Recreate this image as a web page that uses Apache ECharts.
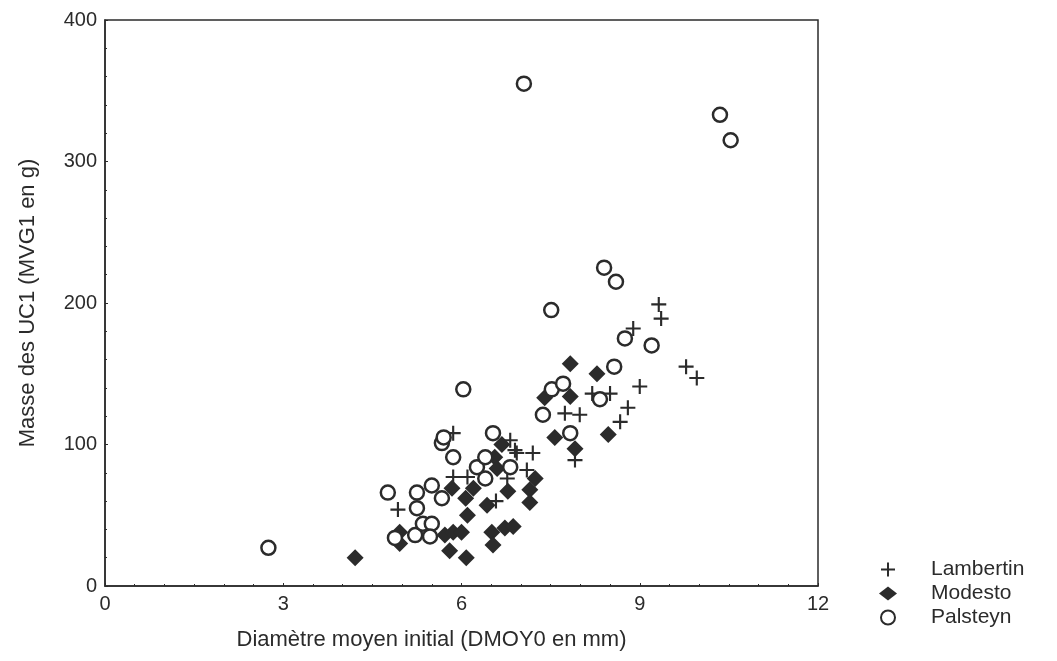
<!DOCTYPE html>
<html>
<head>
    <meta charset="utf-8">
    <title>Masse des UC1</title>
    <script src="https://cdn.jsdelivr.net/npm/echarts@6/dist/echarts.min.js"></script>
    <style>
        html, body { margin: 0; padding: 0; background: #fff; }
        #main { width: 1057px; height: 661px; }
    </style>
</head>
<body>
    <div id="main"></div>
    <script>
        // données : [DMOY0 (mm), MVG1 (g)]
        var lambertin = [
            [4.93, 54], [5.86, 108], [5.86, 77], [6.10, 77], [6.82, 103], [6.90, 96],
            [6.93, 94], [7.20, 94], [7.10, 82], [6.77, 76], [6.58, 60], [7.74, 122],
            [7.99, 121], [7.91, 89], [8.20, 136], [8.50, 136], [8.80, 126], [8.67, 116],
            [9.00, 141], [8.89, 182], [9.32, 199], [9.36, 189], [9.78, 155], [9.96, 147]
        ];
        var modesto = [
            [4.21, 20], [4.96, 38], [4.96, 30], [5.72, 36], [5.86, 38], [6.00, 38],
            [5.80, 25], [6.08, 20], [6.10, 50], [6.07, 62], [6.20, 69], [5.84, 69],
            [6.43, 57], [6.51, 38], [6.53, 29], [6.73, 41], [6.87, 42], [6.68, 100],
            [6.56, 91], [6.60, 83], [6.78, 67], [7.15, 68], [7.15, 59], [7.24, 76],
            [7.40, 133], [7.83, 134], [7.83, 157], [8.28, 150], [7.57, 105], [8.47, 107],
            [7.91, 97]
        ];
        var palsteyn = [
            [2.75, 27], [4.76, 66], [4.88, 34], [5.22, 36], [5.25, 66], [5.25, 55],
            [5.35, 44], [5.50, 44], [5.47, 35], [5.50, 71], [5.67, 62], [5.67, 101],
            [5.70, 105], [5.86, 91], [6.03, 139], [6.26, 84], [6.40, 91], [6.40, 76],
            [6.53, 108], [6.82, 84], [7.05, 355], [7.37, 121], [7.52, 139], [7.71, 143],
            [7.83, 108], [8.33, 132], [7.51, 195], [8.40, 225], [8.60, 215], [8.75, 175],
            [9.20, 170], [8.57, 155], [10.35, 333], [10.53, 315]
        ];
        var seriesNames = ['Lambertin', 'Modesto', 'Palsteyn'];
        var xTicks = [0, 3, 6, 9, 12];
        var yTicks = [0, 100, 200, 300, 400];

        var ink = '#2b2b2b';
        var plus = 'path://M6,0H8V6H14V8H8V14H6V8H0V6H6Z';

        var byId = function(id) {
            return document.getElementById(id);
        };

        var option = {
            animation: false,
            backgroundColor: '#fff',
            textStyle: { fontFamily: 'Liberation Sans, Arial, sans-serif', color: ink },
            grid: {
                left: 105, right: 239, top: 20, bottom: 75,
                show: true, borderColor: ink, borderWidth: 1.5
            },
            legend: {
                orient: 'vertical',
                left: 874,
                top: 554,
                itemGap: 3,
                itemWidth: 18,
                itemHeight: 14,
                data: seriesNames,
                textStyle: { fontSize: 21, color: ink, padding: [0, 0, 0, 29] }
            },
            xAxis: {
                type: 'value',
                min: xTicks[0],
                max: xTicks[xTicks.length - 1],
                interval: 3,
                name: 'Diamètre moyen initial (DMOY0 en mm)',
                nameLocation: 'middle',
                nameGap: 43,
                nameTextStyle: { fontSize: 22, color: ink, padding: [0, 60, 0, 0] },
                axisLine: { show: true, lineStyle: { color: ink, width: 1.5 } },
                axisTick: { show: true, inside: true, length: 3, lineStyle: { color: ink } },
                minorTick: { show: true, splitNumber: 6, length: 2, lineStyle: { color: ink } },
                axisLabel: { fontSize: 20, color: ink, margin: 8 },
                splitLine: { show: false }
            },
            yAxis: {
                type: 'value',
                min: yTicks[0],
                max: yTicks[yTicks.length - 1],
                interval: 100,
                name: 'Masse des UC1 (MVG1 en g)',
                nameLocation: 'middle',
                nameGap: 66,
                nameTextStyle: { fontSize: 22, color: ink },
                axisLine: { show: true, lineStyle: { color: ink, width: 1.5 } },
                axisTick: { show: true, inside: true, length: 3, lineStyle: { color: ink } },
                minorTick: { show: true, splitNumber: 5, length: 2, lineStyle: { color: ink } },
                axisLabel: { fontSize: 20, color: ink, margin: 8 },
                splitLine: { show: false }
            },
            series: [{
                name: seriesNames[0],
                type: 'scatter',
                symbol: plus,
                symbolSize: 15,
                itemStyle: { color: ink, opacity: 1 },
                data: lambertin
            }, {
                name: seriesNames[1],
                type: 'scatter',
                symbol: 'diamond',
                symbolSize: 17,
                itemStyle: { color: ink, opacity: 1 },
                data: modesto
            }, {
                name: seriesNames[2],
                type: 'scatter',
                symbol: 'circle',
                symbolSize: 14,
                itemStyle: { color: '#fff', borderColor: ink, borderWidth: 2.5, opacity: 1 },
                data: palsteyn
            }]
        };

        var chart = echarts.init(byId('main'));
        chart.setOption(option);
    </script>
</body>
</html>
